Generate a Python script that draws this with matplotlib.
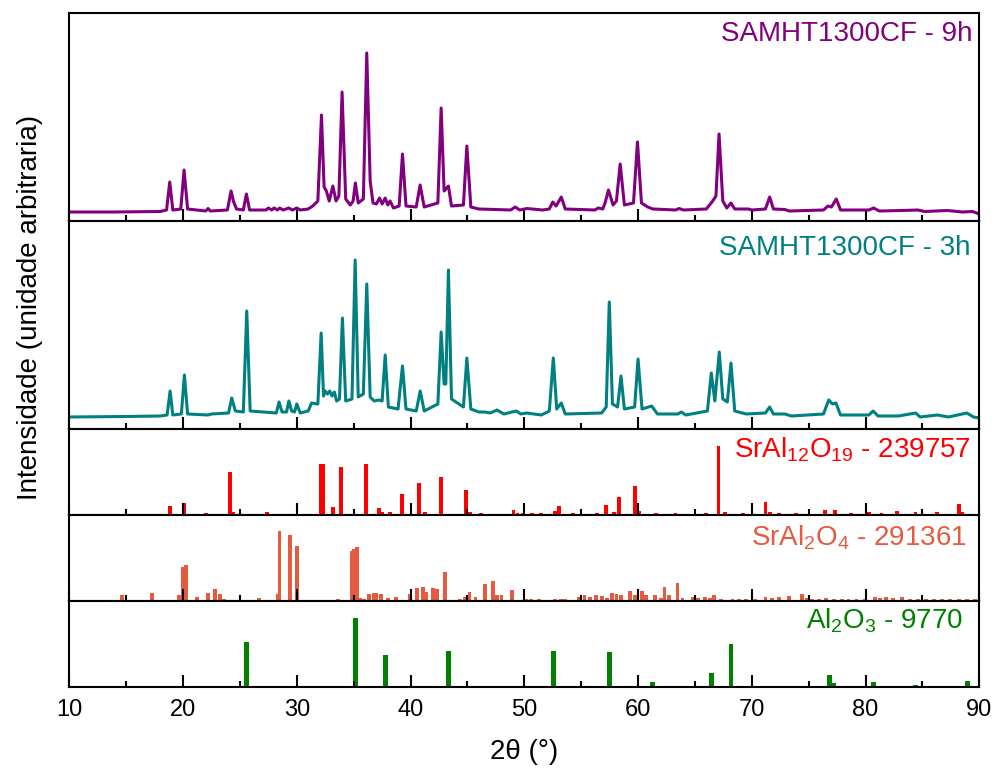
import matplotlib
matplotlib.use('Agg')
import matplotlib.pyplot as plt
from matplotlib.ticker import MultipleLocator

plt.rcParams['font.family'] = ['Liberation Sans', 'DejaVu Sans']
plt.rcParams['mathtext.fontset'] = 'custom'
plt.rcParams['mathtext.rm'] = 'Liberation Sans'
plt.rcParams['mathtext.default'] = 'rm'

# SAMHT1300CF - 9h (2theta, intensity in arbitrary units)
x_9h = [10, 14, 18.0, 18.55, 18.83, 19.1, 19.8, 20.09, 20.4, 22.0, 22.2, 22.4, 23.9, 24.22, 24.45,
        24.7, 25.3, 25.57, 25.85, 27.3, 27.5, 27.8, 28.0, 28.3, 28.5, 28.8, 29.3, 29.6, 30.0, 30.3,
        31.0, 31.4, 31.85, 32.17, 32.4, 32.6, 32.85, 33.17, 33.45, 33.7, 33.98, 34.3, 34.7, 34.95,
        35.15, 35.4, 35.85, 36.15, 36.45, 36.7, 37.0, 37.27, 37.5, 37.77, 38.0, 38.2, 38.5, 39.0,
        39.29, 39.6, 40.5, 40.84, 41.2, 42.4, 42.69, 42.95, 43.33, 43.6, 44.65, 44.95, 45.3, 46.0,
        48.8, 49.2, 49.6, 50.23, 51.6, 52.2, 52.5, 52.8, 53.25, 53.6, 56.2, 56.5, 56.9, 57.1, 57.4,
        57.8, 58.1, 58.43, 58.8, 59.6, 59.95, 60.3, 60.85, 61.3, 63.3, 63.6, 64.0, 66.0, 66.5, 66.85,
        67.12, 67.45, 67.8, 68.17, 68.5, 69.7, 70.0, 71.2, 71.57, 71.9, 72.9, 73.3, 76.3, 76.7, 77.0,
        77.43, 77.8, 80.3, 80.71, 81.2, 83.2, 84.6, 85.2, 87.2, 88.5, 89.4, 90]
y_9h = [9, 9, 9.5, 11, 39, 11, 12, 51, 12, 10, 12.5, 10, 11, 30, 19,
        12, 11, 27, 11, 11, 13, 11, 13, 11, 13, 11, 13, 11, 13, 11,
        12, 15, 20, 106, 34, 30, 20, 35, 20, 25, 129, 22, 16, 20,
        38, 18, 22, 168, 40, 18, 17, 23, 17, 23, 16, 20, 13, 15,
        67, 15, 14, 36, 14, 18, 113, 30, 35, 15, 16, 75, 14, 12,
        11, 14, 11, 12.5, 11, 12, 19, 15, 24, 12, 11, 13, 12, 18, 31,
        16, 20, 57, 16, 18, 79, 18, 14, 12, 11, 12.5, 11, 12, 19, 25,
        87, 20, 13, 18, 12, 12, 11, 12, 24, 12, 11.5, 10, 11, 15, 14,
        22, 11, 11, 13, 10, 10.5, 11, 9.5, 10.5, 9, 9.5, 7]

# SAMHT1300CF - 3h
x_3h = [10, 15, 18.0, 18.6, 18.86, 19.1, 19.85, 20.12, 20.4, 22.2, 22.5, 24.0, 24.28, 24.6, 25.3,
        25.6, 25.9, 28.2, 28.44, 28.7, 29.1, 29.3, 29.55, 29.8, 30.0, 30.3, 31.0, 31.3, 31.85,
        32.14, 32.35, 32.5, 32.7, 32.9, 33.1, 33.3, 33.5, 33.75, 34.01, 34.3, 34.85, 35.13, 35.4,
        35.85, 36.15, 36.45, 36.8, 37.2, 37.5, 37.77, 38.05, 38.9, 39.29, 39.6, 40.5, 40.85, 41.2,
        42.4, 42.69, 42.95, 43.1, 43.33, 43.6, 44.65, 44.95, 45.3, 46.0, 46.5, 47.0, 47.6, 48.2,
        49.3, 49.7, 50.2, 51.5, 52.2, 52.55, 52.85, 53.25, 53.6, 56.8, 57.2, 57.47, 57.75, 58.2,
        58.5, 58.8, 59.7, 60.0, 60.35, 61.2, 61.7, 63.5, 63.8, 64.2, 66.1, 66.44, 66.75, 67.14,
        67.45, 67.85, 68.17, 68.5, 69.5, 71.2, 71.57, 71.9, 72.9, 73.5, 76.3, 76.76, 77.1, 77.4,
        77.8, 80.3, 80.66, 81.1, 82.9, 84.4, 84.8, 86.3, 87.3, 88.9, 89.5, 90]
y_3h = [12, 12.5, 13, 14, 38, 14, 15, 54, 15, 14, 15, 16, 31, 18, 17,
        118, 18, 16, 27, 17, 17, 28, 18, 17, 25, 16, 18, 26, 25,
        96, 33, 38, 35, 38, 33, 37, 28, 30, 111, 28, 30, 169, 32,
        35, 145, 32, 28, 29, 28, 74, 22, 20, 63, 20, 18, 38, 18,
        25, 97, 45, 45, 159, 30, 22, 71, 20, 17, 17, 16, 19, 15,
        18, 15, 16, 14, 18, 71, 20, 26, 15, 16, 22, 127, 25, 22,
        53, 20, 22, 70, 20, 23, 15, 15, 17, 14, 18, 56, 28, 77,
        30, 27, 66, 18, 15, 16, 22, 15, 15, 13, 15, 29, 25, 26,
        14, 14, 18, 13, 13, 16, 12, 14, 12, 16, 12, 11]

# SrAl12O19 - 239757 reference sticks
pos_sral12 = [18.87, 20.09, 22.0, 24.13, 24.4, 27.36, 32.1, 32.35, 33.17, 33.9, 36.1, 37.24, 37.5,
              38.2, 39.23, 40.76, 41.3, 42.66, 44.86, 45.2, 46.2, 47.3, 49.05, 49.4, 49.9, 50.7,
              51.5, 52.7, 53.07, 54.3, 56.4, 57.18, 57.9, 58.3, 59.75, 60.1, 61.6, 63.3, 66.0,
              67.08, 67.65, 69.2, 71.2, 71.6, 72.4, 73.9, 76.46, 77.3, 78.7, 80.3, 81.4, 82.77,
              84.4, 86.3, 88.19, 88.5]
int_sral12 = [9, 11.7, 1.7, 43.3, 3, 3, 50.7, 50.7, 7.7, 48.3, 50.7, 7.3, 3,
              3, 21, 31.7, 3, 38.3, 25, 3, 2, 1.5, 5, 2, 2, 2,
              2, 4, 9, 2, 2.3, 9.7, 3, 17.7, 29.3, 4, 2, 2, 2.3,
              69.3, 3, 2, 12.7, 3, 2, 2, 5, 5, 2, 3, 2, 4.3,
              3.3, 3.3, 11, 3]

# SrAl2O4 - 291361 reference sticks
pos_sral2 = [10.4, 14.6, 17.25, 19.65, 19.97, 20.26, 20.9, 21.2, 22.17, 22.8, 23.25, 23.6, 26.68,
             28.3, 28.47, 29.41, 30.05, 31.9, 32.3, 33.6, 34.83, 35.05, 35.27, 35.6, 35.9, 36.36,
             36.8, 37.0, 37.4, 38.0, 38.7, 39.9, 40.6, 41.1, 41.4, 41.96, 42.3, 43.04, 43.6, 44.36,
             44.75, 45.18, 45.7, 46.55, 47.27, 47.6, 48.0, 48.93, 49.6, 50.2, 50.6, 51.3, 52.0,
             52.7, 53.2, 53.6, 54.8, 55.3, 55.8, 56.3, 56.8, 57.3, 57.7, 58.1, 58.5, 59.3, 59.7,
             60.34, 60.7, 61.5, 62.0, 62.33, 62.7, 63.47, 63.9, 64.8, 65.3, 65.9, 66.3, 66.7, 67.3,
             68.3, 68.9, 69.5, 70.3, 71.2, 71.8, 72.4, 73.3, 74.4, 74.8, 75.3, 75.9, 76.5, 77.2,
             77.9, 78.5, 79.2, 79.9, 80.8, 81.3, 81.8, 82.4, 83.2, 83.9, 84.6, 85.3, 86.0, 86.7,
             87.4, 88.2, 88.9, 89.6]
int_sral2 = [1.3, 5.7, 8, 5.7, 34, 35.7, 1.3, 4, 8.3, 12.3, 7.3, 2.3, 3,
             7.3, 69.7, 66.3, 55.3, 0.7, 0.7, 2.3, 49.7, 52, 54, 3, 2.3, 6.7,
             8, 8.3, 6.7, 3.3, 4, 6.7, 13, 14, 9, 13.4, 11.7, 29, 1, 1.7,
             4, 9, 4, 16.7, 19.7, 6.4, 6.4, 10.7, 1, 2.3, 2.3, 2.3, 1.5,
             2.3, 2.3, 2.3, 4, 5.7, 4.5, 5.7, 5, 3, 8, 7, 6, 10, 6,
             10, 6.5, 5.7, 3, 14, 5.7, 18.4, 3, 4, 3, 4, 3.5, 5.7, 2.3,
             2.3, 2.3, 2.3, 2, 4, 3, 4, 4.7, 6.7, 3, 2.5, 2.3, 3, 2.3,
             2.5, 2, 2.5, 2.3, 4, 3, 4, 3.5, 4, 2.3, 2.3, 2.3, 2.3, 2.3,
             2, 2.3, 2, 2]

# Al2O3 - 9770 reference sticks
pos_al2o3 = [25.6, 35.13, 37.77, 41.68, 43.33, 46.2, 52.55, 57.5, 59.7, 61.3, 66.44, 68.17, 70.4,
             74.3, 76.84, 77.2, 80.7, 83.2, 84.4, 85.1, 86.4, 88.97]
int_al2o3 = [44.7, 68.7, 31.7, 1.3, 36, 1.3, 36, 35, 0.7, 5.3, 14.3, 43, 0.7,
             1.3, 12, 4.3, 5.3, 0.7, 2, 1.3, 1.3, 5.7]

W, H = 993, 769
fig = plt.figure(figsize=(W / 100, H / 100), dpi=100)

left = 69.3 / W
width = 910 / W
edges = [13, 221, 429, 515, 601, 687]  # panel borders, pixels from top
axes = []
for i in range(5):
    top, bot = edges[i], edges[i + 1]
    ax = fig.add_axes([left, 1 - bot / H, width, (bot - top) / H])
    ax.set_xlim(10, 90)
    ax.set_ylim(0, bot - top)
    ax.set_yticks([])
    ax.xaxis.set_major_locator(MultipleLocator(10))
    ax.xaxis.set_minor_locator(MultipleLocator(5))
    ax.tick_params(axis='x', which='major', direction='in', length=8.5, width=1.5,
                   labelsize=17, pad=9)
    ax.tick_params(axis='x', which='minor', direction='in', length=4.5, width=1.5)
    for s in ax.spines.values():
        s.set_linewidth(1.5)
    if i < 4:
        ax.tick_params(axis='x', labelbottom=False)
    axes.append(ax)

purple = '#800080'
teal = '#008080'
red = '#FF0000'
coral = '#E65A40'
green = '#008000'

axes[0].plot(x_9h, y_9h, color=purple, lw=2.2)
axes[0].text(0.993, 0.863, 'SAMHT1300CF - 9h', color=purple, fontsize=20,
             ha='right', va='baseline', transform=axes[0].transAxes)

axes[1].plot(x_3h, y_3h, color=teal, lw=2.2)
axes[1].text(0.99, 0.837, 'SAMHT1300CF - 3h', color=teal, fontsize=20,
             ha='right', va='baseline', transform=axes[1].transAxes)

axes[2].bar(pos_sral12, int_sral12, width=0.33, color=red, linewidth=0)
axes[2].text(0.99, 0.663, r'SrAl$_{12}$O$_{19}$ - 239757', color=red, fontsize=20,
             ha='right', va='baseline', transform=axes[2].transAxes)

axes[3].bar(pos_sral2, int_sral2, width=0.33, color=coral, linewidth=0)
axes[3].text(0.986, 0.65, r'SrAl$_{2}$O$_{4}$ - 291361', color=coral, fontsize=20,
             ha='right', va='baseline', transform=axes[3].transAxes)

axes[4].bar(pos_al2o3, int_al2o3, width=0.42, color=green, linewidth=0)
axes[4].text(0.982, 0.686, r'Al$_{2}$O$_{3}$ - 9770', color=green, fontsize=20,
             ha='right', va='baseline', transform=axes[4].transAxes)

fig.text(30 / W, 1 - 307 / H, 'Intensidade (unidade arbitraria)', rotation=90,
         fontsize=20, ha='center', va='center')
fig.text(524 / W, 1 - 752 / H, '2θ (°)', fontsize=20, ha='center', va='center')

fig.savefig('out.png', dpi=100)
